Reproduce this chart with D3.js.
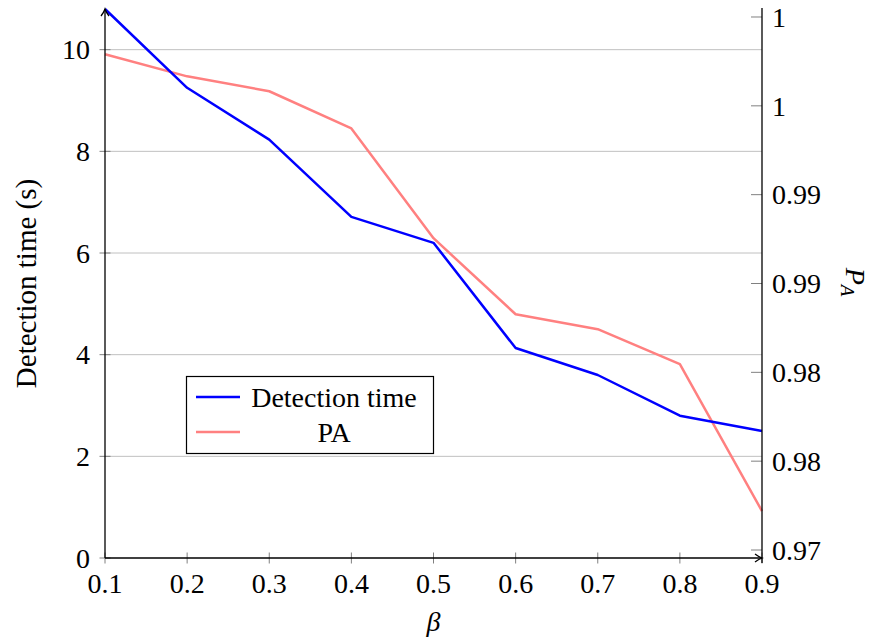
<!DOCTYPE html>
<html><head><meta charset="utf-8">
<script src="https://cdn.jsdelivr.net/npm/d3@7"></script>
<style>body{margin:0;background:#fff}svg{display:block}text{font-family:"Liberation Serif",serif;fill:#000}</style>
</head><body><svg id="c" width="871" height="642"></svg>
<script>
const betas = [0.1,0.2,0.3,0.4,0.5,0.6,0.7,0.8,0.9];
const detectionTime = [10.8,9.25,8.23,6.71,6.20,4.13,3.60,2.80,2.50];
const pa = [0.9979,0.99666,0.99582,0.99373,0.98755,0.98327,0.98243,0.98046,0.97219];
const xTicks = [0.1,0.2,0.3,0.4,0.5,0.6,0.7,0.8,0.9];
const xTickLabels = ["0.1","0.2","0.3","0.4","0.5","0.6","0.7","0.8","0.9"];
const leftTicks = [0,2,4,6,8,10];
const leftTickLabels = ["0","2","4","6","8","10"];
const rightTicks = [0.97,0.975,0.98,0.985,0.99,0.995,1.0];
const rightTickLabels = ["0.97","0.98","0.98","0.99","0.99","1","1"];
const seriesNames = ["Detection time","PA"];
const colors = ["#0000ff","#ff8080"];

const svg = d3.select("#c");
const L=105,R=762,T=9,B=558, FS=28;
const x = d3.scaleLinear().domain([0.1,0.9]).range([L,R]);
const yL = d3.scaleLinear().domain([0,10.8]).range([B,T]);
const yR = d3.scaleLinear().domain([0.96955,1.00045]).range([B,T]);

// grid
svg.append("g").selectAll("line").data(leftTicks.filter(d=>d>0)).join("line")
  .attr("x1",L).attr("x2",R).attr("y1",d=>yL(d)).attr("y2",d=>yL(d))
  .attr("stroke","#c0c0c0").attr("stroke-width",1);

// ticks
const tk = svg.append("g").attr("stroke","#808080").attr("stroke-width",1);
tk.selectAll(".lt").data(leftTicks).join("line").attr("x1",L-5.5).attr("x2",L+5.5)
  .attr("y1",d=>yL(d)).attr("y2",d=>yL(d));
tk.selectAll(".bt").data(xTicks).join("line").attr("y1",B-5.5).attr("y2",B+5.5)
  .attr("x1",d=>x(d)).attr("x2",d=>x(d));
tk.selectAll(".rt").data(rightTicks).join("line").attr("x1",R-11).attr("x2",R)
  .attr("y1",d=>yR(d)).attr("y2",d=>yR(d));

// lines
const lineL = d3.line().x((d,i)=>x(betas[i])).y(d=>yL(d));
const lineR = d3.line().x((d,i)=>x(betas[i])).y(d=>yR(d));
svg.append("path").attr("d",lineR(pa)).attr("fill","none").attr("stroke",colors[1]).attr("stroke-width",2.5).attr("stroke-linejoin","round");
svg.append("path").attr("d",lineL(detectionTime)).attr("fill","none").attr("stroke",colors[0]).attr("stroke-width",2.5).attr("stroke-linejoin","round");

// axes lines
const ax = svg.append("g").attr("stroke","#000").attr("stroke-width",1.3).attr("fill","none");
ax.append("line").attr("x1",L).attr("x2",L).attr("y1",B).attr("y2",T);
ax.append("path").attr("d",`M${L-4},${T+7} Q${L-1},${T+3} ${L},${T} Q${L+1},${T+3} ${L+4},${T+7}`);
ax.append("line").attr("x1",L).attr("x2",R).attr("y1",B).attr("y2",B);
ax.append("path").attr("d",`M${R-7},${B-4} Q${R-3},${B-1} ${R},${B} Q${R-3},${B+1} ${R-7},${B+4}`);
ax.append("line").attr("x1",R).attr("x2",R).attr("y1",T-1).attr("y2",B+5);

// tick labels
svg.append("g").selectAll("text").data(leftTicks).join("text")
  .attr("x",L-15).attr("y",d=>yL(d)).attr("dy","0.35em").attr("text-anchor","end")
  .attr("font-size",FS).text((d,i)=>leftTickLabels[i]);
svg.append("g").selectAll("text").data(xTicks).join("text")
  .attr("x",d=>x(d)).attr("y",B+35).attr("text-anchor","middle")
  .attr("font-size",FS).text((d,i)=>xTickLabels[i]);
svg.append("g").selectAll("text").data(rightTicks).join("text")
  .attr("x",R+10).attr("y",d=>yR(d)).attr("dy","0.35em").attr("text-anchor","start")
  .attr("font-size",FS).text((d,i)=>rightTickLabels[i]);

// axis labels
svg.append("text").attr("transform",`translate(${x(0.5)},${631}) `).attr("text-anchor","middle")
  .attr("font-size",FS).attr("font-style","italic").text("β");
svg.append("text").attr("transform",`translate(36,${(T+B)/2}) rotate(-90)`).attr("text-anchor","middle")
  .attr("font-size",29).text("Detection time (s)");
const pl = svg.append("text").attr("transform",`translate(846,282) rotate(90)`).attr("text-anchor","middle")
  .attr("font-size",FS).attr("font-style","italic");
pl.append("tspan").text("P");
pl.append("tspan").attr("font-size",19).attr("dy",5).text("A");

// legend
const lg = svg.append("g");
lg.append("rect").attr("x",186.5).attr("y",376.5).attr("width",247).attr("height",77)
  .attr("fill","#fff").attr("stroke","#000").attr("stroke-width",1.2);
seriesNames.forEach((n,i)=>{
  const yy = 397 + i*35;
  lg.append("line").attr("x1",196).attr("x2",240).attr("y1",yy).attr("y2",yy)
    .attr("stroke",colors[i]).attr("stroke-width",2.5);
  lg.append("text").attr("x",334).attr("y",yy).attr("dy","0.35em").attr("text-anchor","middle")
    .attr("font-size",FS).text(n);
});
</script></body></html>
